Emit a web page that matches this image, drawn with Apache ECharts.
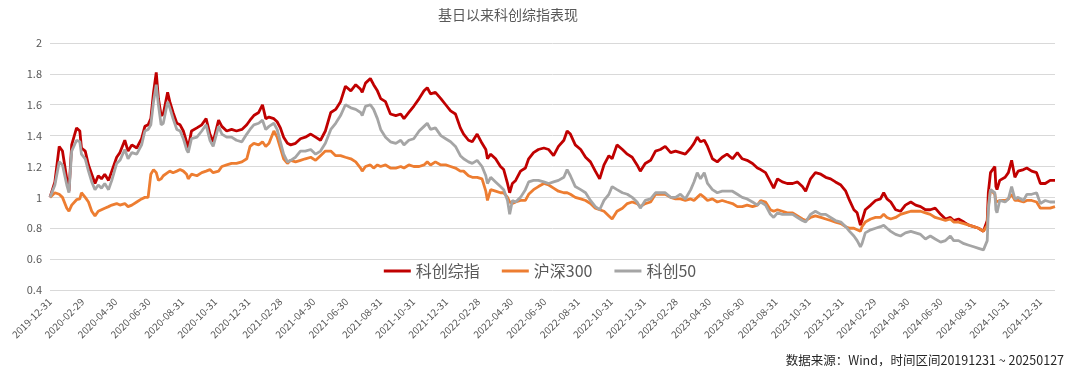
<!DOCTYPE html>
<html>
<head>
<meta charset="utf-8">
<script src="https://cdn.jsdelivr.net/npm/echarts@6/dist/echarts.min.js"></script>
<style>
html,body{margin:0;padding:0;background:#fff;}
#chart{width:1080px;height:374px;}
</style>
</head>
<body>
<div id="chart"></div>
<script>
var titleText = '基日以来科创综指表现';
var sourceText = '数据来源：Wind，时间区间20191231 ~ 20250127';
var seriesNames = ['科创综指', '沪深300', '科创50'];

var dates = [
'2019-12-31','2020-01-09','2020-01-17','2020-01-23','2020-01-31','2020-02-04','2020-02-09','2020-02-18','2020-02-24','2020-02-27',
'2020-03-05','2020-03-11','2020-03-17','2020-03-23','2020-03-29','2020-04-04','2020-04-10','2020-04-17','2020-04-23','2020-05-02',
'2020-05-08','2020-05-17','2020-05-23','2020-05-30','2020-06-08','2020-06-17','2020-06-23','2020-06-29','2020-07-04','2020-07-09',
'2020-07-14','2020-07-18','2020-07-23','2020-07-27','2020-08-04','2020-08-08','2020-08-14','2020-08-21','2020-08-27','2020-09-02',
'2020-09-08','2020-09-11','2020-09-17','2020-09-27','2020-10-06','2020-10-14','2020-10-21','2020-10-27','2020-11-06','2020-11-12',
'2020-11-21','2020-11-30','2020-12-09','2020-12-19','2020-12-28','2021-01-03','2021-01-10','2021-01-19','2021-01-26','2021-02-01',
'2021-02-07','2021-02-16','2021-02-22','2021-02-28','2021-03-06','2021-03-13','2021-03-19','2021-03-28','2021-04-06','2021-04-15',
'2021-04-25','2021-05-04','2021-05-13','2021-05-22','2021-06-01','2021-06-10','2021-06-19','2021-06-28','2021-07-08','2021-07-17',
'2021-07-26','2021-07-29','2021-08-04','2021-08-13','2021-08-19','2021-08-26','2021-09-01','2021-09-10','2021-09-19','2021-09-29',
'2021-10-08','2021-10-14','2021-10-23','2021-11-01','2021-11-11','2021-11-20','2021-11-26','2021-12-02','2021-12-11','2021-12-21',
'2021-12-30','2022-01-08','2022-01-17','2022-01-26','2022-02-01','2022-02-10','2022-02-17','2022-02-26','2022-03-07','2022-03-14',
'2022-03-17','2022-03-23','2022-04-01','2022-04-10','2022-04-16','2022-04-23','2022-04-27','2022-05-02','2022-05-08','2022-05-17',
'2022-05-26','2022-06-01','2022-06-10','2022-06-19','2022-06-29','2022-07-08','2022-07-17','2022-07-26','2022-08-05','2022-08-11',
'2022-08-17','2022-08-26','2022-09-05','2022-09-14','2022-09-23','2022-10-02','2022-10-10','2022-10-18','2022-10-27','2022-11-02',
'2022-11-11','2022-11-21','2022-11-30','2022-12-09','2022-12-18','2022-12-24','2023-01-02','2023-01-12','2023-01-21','2023-01-30',
'2023-02-08','2023-02-18','2023-02-27','2023-03-08','2023-03-17','2023-03-27','2023-04-02','2023-04-08','2023-04-14','2023-04-21',
'2023-04-27','2023-05-06','2023-05-15','2023-05-24','2023-06-02','2023-06-12','2023-06-21','2023-06-30','2023-07-09','2023-07-19',
'2023-07-28','2023-08-03','2023-08-12','2023-08-21','2023-08-27','2023-09-03','2023-09-12','2023-09-21','2023-10-01','2023-10-10',
'2023-10-19','2023-10-25','2023-11-03','2023-11-12','2023-11-22','2023-12-01','2023-12-10','2023-12-19','2023-12-29','2024-01-07',
'2024-01-14','2024-01-22','2024-01-28','2024-02-03','2024-02-06','2024-02-12','2024-02-22','2024-03-02','2024-03-11','2024-03-17',
'2024-03-23','2024-03-30','2024-04-08','2024-04-17','2024-04-26','2024-05-06','2024-05-15','2024-05-24','2024-06-02','2024-06-11',
'2024-06-20','2024-06-30','2024-07-09','2024-07-18','2024-07-24','2024-08-02','2024-08-12','2024-08-21','2024-08-30','2024-09-08',
'2024-09-17','2024-09-20','2024-09-24','2024-09-26','2024-09-30','2024-10-08','2024-10-10','2024-10-12','2024-10-17','2024-10-27',
'2024-11-02','2024-11-08','2024-11-14','2024-11-20','2024-11-30','2024-12-06','2024-12-15','2024-12-24','2024-12-31','2025-01-09',
'2025-01-18','2025-01-27'
];

var kcComposite = [
1.00,1.10,1.33,1.30,1.12,1.04,1.34,1.45,1.43,1.32,
1.30,1.21,1.15,1.09,1.14,1.12,1.15,1.11,1.17,1.26,
1.29,1.37,1.30,1.34,1.32,1.38,1.46,1.47,1.51,1.68,
1.81,1.64,1.53,1.54,1.68,1.62,1.55,1.48,1.47,1.43,
1.36,1.32,1.43,1.45,1.47,1.51,1.41,1.36,1.50,1.46,
1.43,1.44,1.43,1.44,1.47,1.50,1.53,1.55,1.60,1.51,
1.52,1.51,1.49,1.45,1.39,1.35,1.34,1.35,1.38,1.39,
1.41,1.39,1.37,1.43,1.55,1.57,1.62,1.72,1.69,1.73,
1.70,1.68,1.74,1.77,1.73,1.69,1.64,1.62,1.54,1.53,
1.54,1.51,1.55,1.59,1.64,1.69,1.71,1.67,1.68,1.64,
1.60,1.56,1.54,1.45,1.41,1.37,1.36,1.41,1.35,1.31,
1.25,1.28,1.25,1.20,1.18,1.09,1.03,1.09,1.11,1.17,
1.19,1.25,1.29,1.31,1.32,1.31,1.27,1.33,1.37,1.43,
1.41,1.34,1.31,1.26,1.23,1.17,1.12,1.21,1.27,1.25,
1.34,1.31,1.28,1.26,1.21,1.17,1.22,1.24,1.30,1.31,
1.33,1.29,1.30,1.29,1.28,1.32,1.35,1.39,1.36,1.37,
1.33,1.25,1.23,1.26,1.28,1.25,1.29,1.25,1.24,1.22,
1.19,1.18,1.16,1.10,1.06,1.12,1.10,1.09,1.09,1.10,
1.07,1.04,1.12,1.16,1.15,1.13,1.12,1.10,1.08,1.04,
0.98,0.92,0.90,0.82,0.85,0.92,0.95,0.98,0.99,1.03,
0.99,0.97,0.92,0.91,0.95,0.97,0.95,0.94,0.92,0.92,
0.93,0.89,0.86,0.87,0.85,0.86,0.84,0.82,0.81,0.80,
0.78,0.77,0.85,1.03,1.16,1.20,1.07,1.05,1.11,1.13,
1.16,1.24,1.13,1.17,1.18,1.19,1.17,1.16,1.09,1.09,
1.11,1.11
];

var hs300 = [
1.00,1.03,1.02,1.00,0.93,0.91,0.95,0.985,0.99,1.03,
1.00,0.97,0.91,0.88,0.91,0.92,0.93,0.94,0.95,0.96,
0.95,0.96,0.94,0.95,0.97,0.99,1.00,1.00,1.15,1.18,
1.16,1.11,1.12,1.14,1.16,1.17,1.16,1.17,1.18,1.17,
1.15,1.12,1.15,1.14,1.16,1.17,1.18,1.16,1.17,1.20,
1.21,1.22,1.22,1.23,1.25,1.33,1.35,1.34,1.36,1.33,
1.35,1.43,1.39,1.32,1.25,1.22,1.24,1.23,1.24,1.25,
1.26,1.24,1.27,1.30,1.30,1.27,1.27,1.26,1.25,1.23,
1.19,1.17,1.20,1.21,1.19,1.21,1.20,1.21,1.19,1.19,
1.20,1.19,1.21,1.20,1.20,1.21,1.23,1.21,1.23,1.21,
1.21,1.20,1.19,1.17,1.17,1.14,1.13,1.13,1.12,1.04,
0.98,1.05,1.04,1.03,1.03,1.00,0.97,0.96,0.97,0.98,
0.98,1.02,1.05,1.07,1.09,1.08,1.06,1.04,1.03,1.03,
1.02,1.00,0.99,0.98,0.96,0.93,0.92,0.91,0.88,0.86,
0.91,0.93,0.96,0.97,0.96,0.94,0.96,0.97,1.02,1.02,
1.02,1.00,0.99,0.99,0.98,0.99,0.98,1.00,1.02,1.00,
0.98,0.99,0.97,0.98,0.97,0.96,0.94,0.94,0.95,0.94,
0.95,0.98,0.97,0.92,0.91,0.92,0.91,0.90,0.90,0.88,
0.86,0.85,0.87,0.88,0.87,0.86,0.85,0.84,0.83,0.81,
0.80,0.80,0.79,0.78,0.81,0.84,0.86,0.87,0.87,0.89,
0.87,0.86,0.87,0.89,0.90,0.91,0.91,0.91,0.90,0.89,
0.87,0.86,0.85,0.86,0.84,0.84,0.83,0.82,0.81,0.80,
0.78,0.77,0.82,0.94,1.05,1.02,0.97,0.97,0.98,0.98,
0.99,1.02,0.98,0.98,0.97,0.98,0.98,0.97,0.93,0.93,
0.93,0.94
];

var kc50 = [
1.00,1.08,1.23,1.21,1.08,1.03,1.30,1.37,1.36,1.28,
1.25,1.17,1.10,1.05,1.08,1.06,1.09,1.05,1.11,1.22,
1.24,1.31,1.25,1.29,1.28,1.34,1.43,1.44,1.47,1.62,
1.73,1.60,1.47,1.48,1.62,1.58,1.51,1.44,1.43,1.38,
1.31,1.29,1.38,1.39,1.43,1.47,1.37,1.33,1.46,1.41,
1.39,1.39,1.37,1.36,1.41,1.44,1.47,1.48,1.50,1.44,
1.46,1.48,1.44,1.36,1.28,1.23,1.24,1.26,1.30,1.30,
1.31,1.28,1.30,1.35,1.44,1.48,1.53,1.60,1.58,1.57,
1.55,1.53,1.59,1.60,1.57,1.51,1.44,1.39,1.36,1.35,
1.37,1.34,1.37,1.38,1.43,1.46,1.48,1.44,1.45,1.40,
1.38,1.36,1.33,1.27,1.25,1.23,1.22,1.24,1.20,1.14,
1.09,1.13,1.10,1.07,1.05,0.98,0.89,0.98,0.97,1.00,
1.05,1.10,1.11,1.11,1.10,1.09,1.10,1.11,1.13,1.18,
1.14,1.07,1.05,1.03,0.98,0.94,0.92,0.98,1.02,1.07,
1.05,1.03,1.02,1.00,0.97,0.93,0.98,0.99,1.03,1.03,
1.03,1.00,1.00,1.02,0.99,1.05,1.10,1.16,1.12,1.16,
1.09,1.05,1.03,1.04,1.04,1.04,1.02,1.00,0.99,0.97,
0.95,0.97,0.95,0.89,0.87,0.90,0.89,0.89,0.89,0.87,
0.85,0.84,0.89,0.91,0.89,0.89,0.87,0.85,0.84,0.81,
0.78,0.75,0.72,0.68,0.70,0.77,0.79,0.80,0.81,0.82,
0.80,0.78,0.76,0.75,0.77,0.78,0.77,0.76,0.73,0.75,
0.73,0.71,0.72,0.75,0.72,0.72,0.70,0.69,0.68,0.67,
0.66,0.65,0.72,0.92,1.05,1.03,0.92,0.90,0.98,0.97,
0.99,1.07,0.99,1.00,0.98,1.02,1.02,1.03,0.96,0.98,
0.97,0.97
];

var tickLabels = [
'2019-12-31','2020-02-29','2020-04-30','2020-06-30','2020-08-31','2020-10-31','2020-12-31',
'2021-02-28','2021-04-30','2021-06-30','2021-08-31','2021-10-31','2021-12-31',
'2022-02-28','2022-04-30','2022-06-30','2022-08-31','2022-10-31','2022-12-31',
'2023-02-28','2023-04-30','2023-06-30','2023-08-31','2023-10-31','2023-12-31',
'2024-02-29','2024-04-30','2024-06-30','2024-08-31','2024-10-31','2024-12-31'
];

var colors = ['#C00000', '#ED7D31', '#A5A5A5'];

function toTs(s) {
  var p = s.split('-');
  return new Date(+p[0], +p[1] - 1, +p[2]).getTime();
}
function pad(n) { return n < 10 ? '0' + n : '' + n; }
function fmt(ts) {
  var d = new Date(ts);
  return d.getFullYear() + '-' + pad(d.getMonth() + 1) + '-' + pad(d.getDate());
}
function zip(vals) {
  return dates.map(function (d, i) { return [toTs(d), vals[i]]; });
}
var tickTs = tickLabels.map(toTs);
var valueSets = [kcComposite, hs300, kc50];

var chart = echarts.init(document.getElementById('chart'), null, {renderer: 'canvas'});
var font = '"Noto Sans CJK SC", "Noto Sans", sans-serif';

chart.setOption({
  animation: false,
  color: colors,
  textStyle: {fontFamily: font},
  title: {
    text: titleText,
    left: 433,
    top: 3,
    textStyle: {fontSize: 14, fontWeight: 'normal', color: '#595959', fontFamily: font}
  },
  grid: {left: 50, right: 25, top: 43, bottom: 84, containLabel: false},
  legend: {
    top: 258,
    left: 'center',
    icon: 'rect',
    itemWidth: 27,
    itemHeight: 3,
    itemGap: 22,
    textStyle: {fontSize: 16, color: '#595959', fontFamily: font},
    data: seriesNames
  },
  xAxis: {
    type: 'value',
    min: toTs('2019-12-31'),
    max: toTs('2025-01-27'),
    axisLine: {show: false},
    axisTick: {show: false},
    splitLine: {show: false},
    axisLabel: {
      customValues: tickTs,
      formatter: function (v) { return fmt(v); },
      rotate: 45,
      margin: 10,
      fontSize: 10,
      color: '#595959',
      hideOverlap: false,
      fontFamily: font
    }
  },
  yAxis: {
    type: 'value',
    min: 0.4,
    max: 2,
    interval: 0.2,
    axisLine: {show: false},
    axisTick: {show: false},
    splitLine: {lineStyle: {color: '#D9D9D9', width: 1}},
    axisLabel: {
      fontSize: 11,
      color: '#595959',
      margin: 8,
      fontFamily: font,
      formatter: function (v) { return String(Math.round(v * 10) / 10); }
    }
  },
  series: seriesNames.map(function (name, i) {
    return {
      name: name,
      type: 'line',
      data: zip(valueSets[i]),
      showSymbol: false,
      symbol: 'none',
      lineStyle: {width: 2.8, color: colors[i]},
      itemStyle: {color: colors[i]},
      z: 2 + i
    };
  }),
  graphic: [{
    type: 'text',
    right: 16,
    top: 354,
    style: {
      text: sourceText,
      fontSize: 12.5,
      fill: '#262626',
      fontFamily: font
    }
  }]
});
</script>
</body>
</html>
